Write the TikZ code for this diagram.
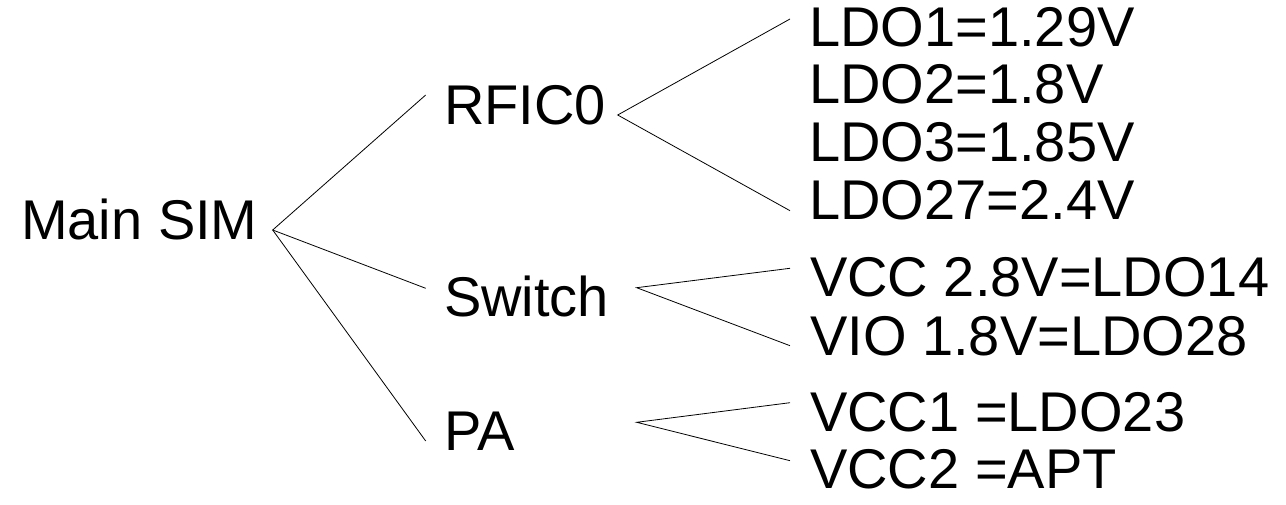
\documentclass[tikz,border=0pt]{standalone}
\usepackage{fontspec}
\setmainfont{Liberation Sans}
\begin{document}
\begin{tikzpicture}[x=1pt,y=-1pt,
  lbl/.style={anchor=base west,inner sep=0pt,font=\fontsize{56}{58}\selectfont},
  conn/.style={line width=0.8pt,black}]
\useasboundingbox (0,0) rectangle (1286,505);
% texts
\node[lbl] (main) at (21,240) {Main SIM};
\node[lbl] (rfic) at (444,125) {RFIC0};
\node[lbl] (sw) at (444,316.7) {Switch};
\node[lbl] (pa) at (444,450) {PA};
\node[lbl] (l1) at (809,46.7) {LDO1=1.29V};
\node[lbl] (l2) at (809,103.3) {LDO2=1.8V};
\node[lbl] (l3) at (809,161.7) {LDO3=1.85V};
\node[lbl] (l27) at (809,220) {LDO27=2.4V};
\node[lbl] (vcc) at (810,296.7) {VCC 2.8V=LDO14};
\node[lbl] (vio) at (810,355) {VIO 1.8V=LDO28};
\node[lbl] (vcc1) at (810,431.7) {VCC1 =LDO23};
\node[lbl] (vcc2) at (810,488.3) {VCC2 =APT};
% connector points
\coordinate (mainR) at (272.7,230);
\coordinate (rficL) at (425.7,95);
\coordinate (swL) at (425.7,288.3);
\coordinate (paL) at (425.7,441);
\coordinate (rficR) at (617.7,115);
\coordinate (l1L) at (790,19);
\coordinate (l27L) at (790,210.7);
\coordinate (swR) at (636.7,287.7);
\coordinate (vccL) at (790,268.3);
\coordinate (vioL) at (790,345.7);
\coordinate (paR) at (636.7,422.3);
\coordinate (vcc1L) at (790,402.7);
\coordinate (vcc2L) at (790,460.7);
% connectors
\draw[conn] (rficL) -- (mainR) -- (swL);
\draw[conn] (mainR) -- (paL);
\draw[conn] (l1L) -- (rficR) -- (l27L);
\draw[conn] (vccL) -- (swR) -- (vioL);
\draw[conn] (vcc1L) -- (paR) -- (vcc2L);
\end{tikzpicture}
\end{document}
